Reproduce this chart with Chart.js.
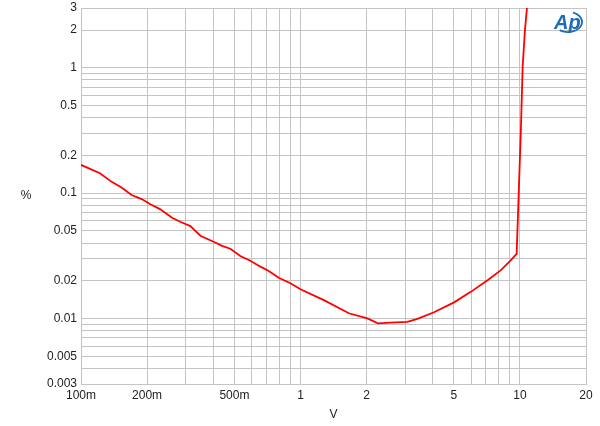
<!DOCTYPE html>
<html>
<head>
<meta charset="utf-8">
<script src="https://cdn.jsdelivr.net/npm/chart.js@4"></script>
<style>
  html, body { margin: 0; padding: 0; background: #fff; }
  #chart { display: block; }
</style>
</head>
<body>
<canvas id="chart" width="600" height="426"></canvas>
<script>
// THD+N (%) vs output voltage (V)
const voltage = [0.1, 0.122, 0.138, 0.153, 0.17, 0.189, 0.207, 0.229, 0.26, 0.283, 0.315, 0.35, 0.402, 0.439, 0.479,
  0.532, 0.591, 0.657, 0.717, 0.796, 0.9, 1.0, 1.278, 1.662, 2.017, 2.254, 2.576, 3.07, 3.41, 4.06, 5.01, 5.97,
  7.12, 8.19, 9.1, 9.66, 9.86, 10.1, 10.29, 10.54, 10.8];
const thdn = [0.168, 0.144, 0.123, 0.111, 0.0965, 0.0897, 0.0814, 0.0746, 0.0636, 0.0591, 0.0546, 0.0457, 0.0409, 0.038, 0.036,
  0.0315, 0.0289, 0.0259, 0.0239, 0.0211, 0.0191, 0.0171, 0.014, 0.011, 0.01, 0.00914, 0.00925, 0.0094, 0.00994, 0.0112, 0.01344, 0.0163,
  0.0202, 0.0243, 0.0292, 0.0327, 0.0936, 0.319, 1.02, 2.0, 3.2];

const xTickValues = [0.1, 0.2, 0.5, 1, 2, 5, 10, 20];
const xTickLabels = ['100m', '200m', '500m', '1', '2', '5', '10', '20'];
const yTickValues = [3, 2, 1, 0.5, 0.2, 0.1, 0.05, 0.02, 0.01, 0.005, 0.003];
const yTickLabels = ['3', '2', '1', '0.5', '0.2', '0.1', '0.05', '0.02', '0.01', '0.005', '0.003'];

function logGrid(min, max) {
  const out = [];
  for (let e = -4; e <= 2; e++) {
    for (let m = 1; m <= 9; m++) {
      const v = +(m * Math.pow(10, e)).toPrecision(6);
      if (v >= min * 0.999 && v <= max * 1.001) out.push(v);
    }
  }
  return out;
}

function labelFor(values, labels, v) {
  const i = values.findIndex(t => Math.abs(t - v) / t < 1e-6);
  return i >= 0 ? labels[i] : '';
}

const extras = {
  id: 'extras',
  afterDraw(chart) {
    const ctx = chart.ctx;
    const area = chart.chartArea;
    ctx.save();
    // y axis title
    ctx.fillStyle = '#222';
    ctx.font = '12px "Liberation Sans", Arial, sans-serif';
    ctx.textAlign = 'center';
    ctx.textBaseline = 'middle';
    ctx.fillText('%', 26, (area.top + area.bottom) / 2);
    // Ap logo
    ctx.fillStyle = '#1c6db5';
    ctx.strokeStyle = '#1c6db5';
    ctx.font = 'italic bold 20px "Liberation Sans", Arial, sans-serif';
    ctx.textAlign = 'left';
    ctx.textBaseline = 'alphabetic';
    ctx.fillText('Ap', 554, 29);
    ctx.lineWidth = 1.8;
    ctx.beginPath();
    ctx.ellipse(568, 22, 14, 10, 0, -1.2, 2.2);
    ctx.stroke();
    ctx.restore();
  }
};

new Chart(document.getElementById('chart'), {
  type: 'line',
  data: {
    datasets: [{
      data: voltage.map((v, i) => ({ x: v, y: thdn[i] })),
      borderColor: '#ff0000',
      borderWidth: 1.8,
      pointRadius: 0,
      tension: 0,
      fill: false
    }]
  },
  options: {
    responsive: false,
    animation: false,
    layout: { padding: { left: 0, right: 14, top: 8, bottom: 0 } },
    plugins: { legend: { display: false }, tooltip: { enabled: false } },
    scales: {
      x: {
        type: 'logarithmic',
        min: 0.1,
        max: 20,
        afterBuildTicks: s => { s.ticks = logGrid(0.1, 20).map(v => ({ value: v })); },
        afterFit: s => { s.height = 42; },
        grid: { color: '#c4c4c4', drawTicks: false },
        border: { color: '#c4c4c4' },
        ticks: {
          autoSkip: false,
          maxRotation: 0,
          padding: 4,
          color: '#222',
          font: { family: '"Liberation Sans", Arial, sans-serif', size: 12 },
          callback: v => labelFor(xTickValues, xTickLabels, v)
        },
        title: {
          display: true,
          text: 'V',
          color: '#222',
          padding: { top: 0, bottom: 4 },
          font: { family: '"Liberation Sans", Arial, sans-serif', size: 12 }
        }
      },
      y: {
        type: 'logarithmic',
        min: 0.003,
        max: 3,
        afterBuildTicks: s => { s.ticks = logGrid(0.003, 3).map(v => ({ value: v })); },
        afterFit: s => { s.width = 81; s.paddingTop = 0; s.paddingBottom = 0; },
        grid: { color: '#c4c4c4', drawTicks: false },
        border: { color: '#c4c4c4' },
        ticks: {
          autoSkip: false,
          padding: 4,
          color: '#222',
          font: { family: '"Liberation Sans", Arial, sans-serif', size: 12 },
          callback: v => labelFor(yTickValues, yTickLabels, v)
        }
      }
    }
  },
  plugins: [extras]
});
</script>
</body>
</html>
